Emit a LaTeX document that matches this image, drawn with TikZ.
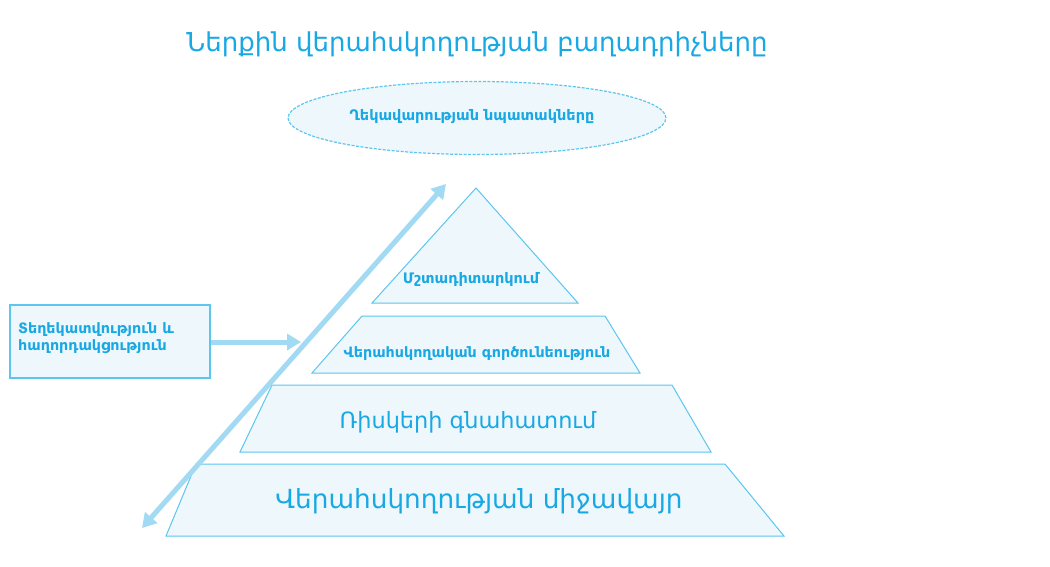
\documentclass[tikz,border=0pt]{standalone}
\usepackage{fontspec}
\setmainfont{DejaVu Sans}
\usetikzlibrary{arrows.meta,shapes.geometric}
\definecolor{txtblue}{HTML}{18A8E4}
\definecolor{edgeblue}{HTML}{5CC6EF}
\definecolor{fillblue}{HTML}{EEF7FC}
\definecolor{arrowblue}{HTML}{A3DAF3}
\tikzset{
  layer/.style={draw=edgeblue, fill=fillblue, line width=1pt, line join=miter},
  lbl/.style={text=txtblue, inner sep=0pt, anchor=center},
  fatarrow/.style={draw=arrowblue, line width=5pt},
}
\begin{document}
\begin{tikzpicture}[x=1pt,y=-1pt]
\useasboundingbox (0,0) rectangle (1050,566);
\fill[white] (0,0) rectangle (1050,566);

% title
\node[lbl, font=\fontsize{26}{30}\selectfont] (title) at (477,44) {Ներքին վերահսկողության բաղադրիչները};

% goals ellipse
\node[ellipse, draw=edgeblue, dash pattern=on 3pt off 1.5pt, fill=fillblue, line width=1.2pt,
      minimum width=378pt, minimum height=73pt, inner sep=0pt] (goals) at (477,118) {};
\node[lbl, font=\bfseries\fontsize{14.5}{16}\selectfont] (goalstxt) at (472,117) {Ղեկավարության նպատակները};

% pyramid layers
\draw[layer] (476,188) -- (578,303) -- (372,303) -- cycle;
\draw[layer] (362,316) -- (605,316) -- (640,373) -- (312,373) -- cycle;
\draw[layer] (272,385) -- (672,385) -- (711,452) -- (240,452) -- cycle;
\draw[layer] (196,464) -- (725,464) -- (784,536) -- (166,536) -- cycle;

\node[lbl, font=\bfseries\fontsize{14.5}{16}\selectfont] (l1) at (471,279) {Մշտադիտարկում};
\node[lbl, font=\bfseries\fontsize{14.3}{16}\selectfont] (l2) at (477,354) {Վերահսկողական գործունեություն};
\node[lbl, font=\fontsize{22.4}{26}\selectfont] (l3) at (468,422) {Ռիսկերի գնահատում};
\node[lbl, font=\fontsize{26.3}{30}\selectfont] (l4) at (479,501) {Վերահսկողության միջավայր};

% information box
\node[draw=edgeblue, fill=fillblue, line width=1.2pt, minimum width=200pt, minimum height=73pt,
      inner sep=0pt] (info) at (110,341.5) {};
\node[text=txtblue, font=\bfseries\fontsize{14.3}{17}\selectfont, align=left, anchor=west,
      inner sep=0pt] (infotxt) at (18,338) {Տեղեկատվություն և\\հաղորդակցություն};

% arrows
\coordinate (infoend) at (301,342);
\draw[fatarrow, -{Triangle[length=14pt,width=16pt]}] (info.east |- infoend) -- (infoend);
\coordinate (diagbot) at (142,528);
\coordinate (diagtop) at (446,184);
\draw[fatarrow, {Triangle[length=14pt,width=16pt]}-{Triangle[length=14pt,width=16pt]}] (diagbot) -- (diagtop);
\end{tikzpicture}
\end{document}
